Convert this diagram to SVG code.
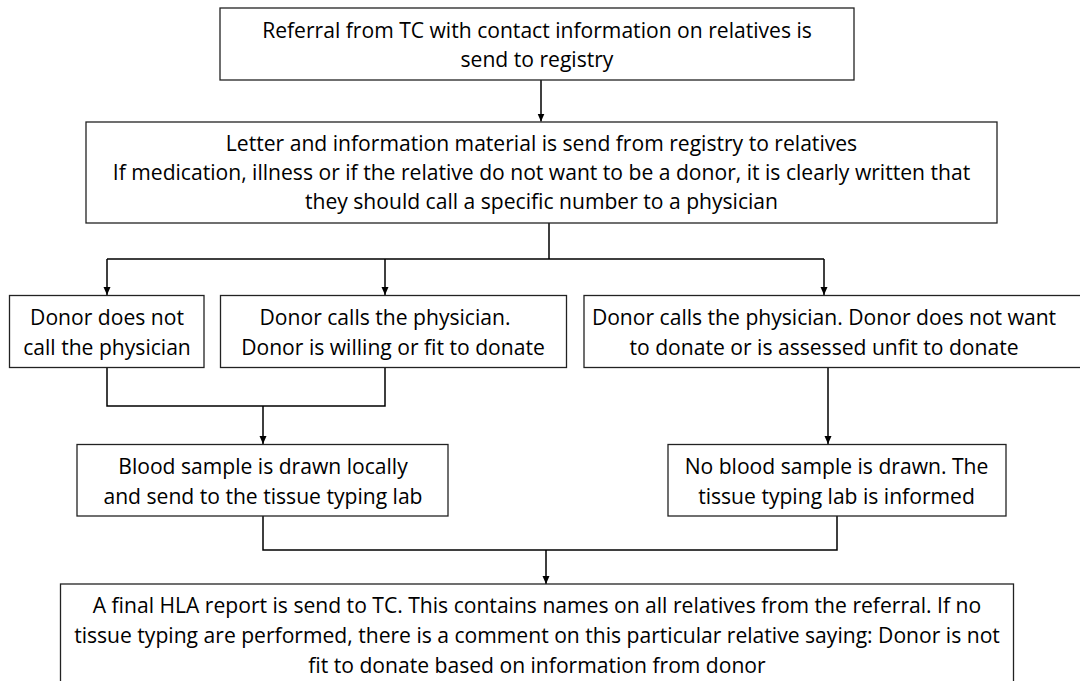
<svg xmlns="http://www.w3.org/2000/svg" width="1080" height="681" viewBox="0 0 1080 681">
<style>
.box{fill:#fff;stroke:#222;stroke-width:1.3}
.t{font-family:"Open Sans","Liberation Sans",sans-serif;font-size:21.1px;fill:#000;text-anchor:middle}
.c{fill:none;stroke:#000;stroke-width:1.5}
</style>
<defs>
<marker id="ah" viewBox="0 0 8 8" refX="8" refY="4" markerWidth="8" markerHeight="8" markerUnits="userSpaceOnUse" orient="auto">
<path d="M0,0.5 L8,4 L0,7.5 Z" fill="#000"/>
</marker>
</defs>
<rect width="1080" height="681" fill="#fff"/>
<g id="connectors">
<path class="c" d="M541,80 V121.5" marker-end="url(#ah)"/>
<path class="c" d="M549,223 V259 M107,259 H824"/>
<path class="c" d="M107,259 V295" marker-end="url(#ah)"/>
<path class="c" d="M385,259 V295" marker-end="url(#ah)"/>
<path class="c" d="M824,259 V295" marker-end="url(#ah)"/>
<path class="c" d="M107,367 V406 H385 V367 M263,406 V444" marker-end="url(#ah)"/>
<path class="c" d="M828,367 V444" marker-end="url(#ah)"/>
<path class="c" d="M263,516 V550 H837 V516 M546,550 V584" marker-end="url(#ah)"/>
</g>
<g id="n1">
<rect class="box" x="220" y="8" width="634" height="72"/>
<text class="t" x="537" y="37.5">Referral from TC with contact information on relatives is</text>
<text class="t" x="537" y="66.5">send to registry</text>
</g>
<g id="n2">
<rect class="box" x="86" y="122" width="911" height="101"/>
<text class="t" x="541.5" y="150.5">Letter and information material is send from registry to relatives</text>
<text class="t" x="541.5" y="179.5">If medication, illness or if the relative do not want to be a donor, it is clearly written that</text>
<text class="t" x="541.5" y="208.5">they should call a specific number to a physician</text>
</g>
<g id="n3">
<rect class="box" x="9.5" y="295.5" width="194.5" height="72"/>
<text class="t" x="107" y="325">Donor does not</text>
<text class="t" x="107" y="355">call the physician</text>
</g>
<g id="n4">
<rect class="box" x="220.5" y="295.5" width="346" height="72"/>
<text class="t" x="385" y="325">Donor calls the physician.</text>
<text class="t" x="393" y="355">Donor is willing or fit to donate</text>
</g>
<g id="n5">
<rect class="box" x="584" y="295.5" width="510" height="72"/>
<text class="t" x="824" y="325">Donor calls the physician. Donor does not want</text>
<text class="t" x="824" y="355">to donate or is assessed unfit to donate</text>
</g>
<g id="n6">
<rect class="box" x="77" y="444.5" width="371" height="71.5"/>
<text class="t" x="263" y="473.5">Blood sample is drawn locally</text>
<text class="t" x="263" y="503.5">and send to the tissue typing lab</text>
</g>
<g id="n7">
<rect class="box" x="668" y="444.5" width="338" height="71.5"/>
<text class="t" x="836.5" y="473.5">No blood sample is drawn. The</text>
<text class="t" x="836.5" y="503.5">tissue typing lab is informed</text>
</g>
<g id="n8">
<rect class="box" x="60.5" y="584" width="953" height="120"/>
<text class="t" x="537" y="613">A final HLA report is send to TC. This contains names on all relatives from the referral. If no</text>
<text class="t" x="537" y="643">tissue typing are performed, there is a comment on this particular relative saying: Donor is not</text>
<text class="t" x="537" y="673">fit to donate based on information from donor</text>
</g>
</svg>
